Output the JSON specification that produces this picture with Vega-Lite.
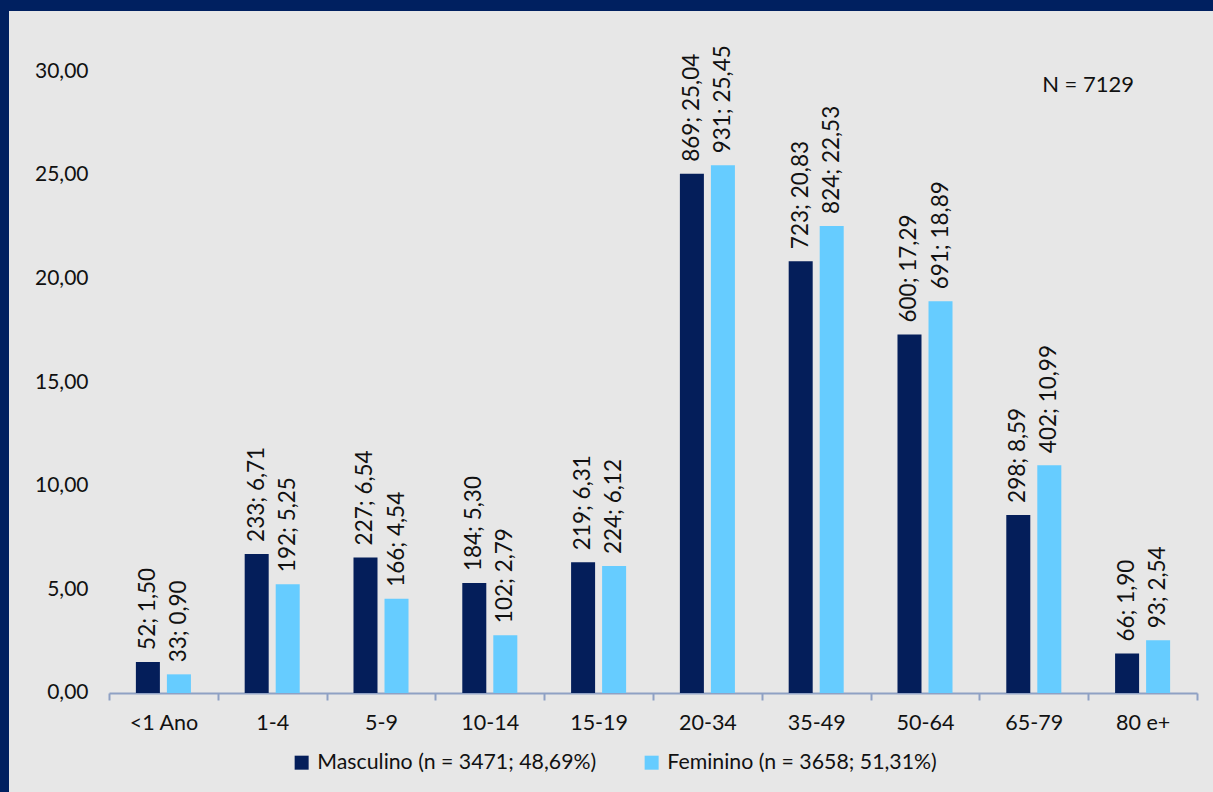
{
  "$schema": "https://vega.github.io/schema/vega-lite/v6.json",
  "width": 1204,
  "height": 781,
  "autosize": {"type": "none"},
  "padding": {"left": 9, "top": 11, "right": 0, "bottom": 0},
  "background": "#002060",
  "config": {
    "locale": {"number": {"decimal": ",", "thousands": ".", "grouping": [3], "currency": ["R$ ", ""]}},
    "view": {"fill": "#E7E7E7", "stroke": null},
    "font": "Lato",
    "text": {"color": "#111111"}
  },
  "title": {
    "text": "N = 7129",
    "anchor": "end",
    "frame": "group",
    "orient": "top",
    "offset": -86,
    "dx": -79,
    "fontSize": 22,
    "fontWeight": "normal",
    "color": "#111111",
    "font": "Lato"
  },
  "data": {
    "values": [
      {"faixa": "<1 Ano", "sexo": "Masculino (n = 3471; 48,69%)", "n": 52, "pct": 1.50, "label": "52; 1,50"},
      {"faixa": "<1 Ano", "sexo": "Feminino (n = 3658; 51,31%)", "n": 33, "pct": 0.90, "label": "33; 0,90"},
      {"faixa": "1-4", "sexo": "Masculino (n = 3471; 48,69%)", "n": 233, "pct": 6.71, "label": "233; 6,71"},
      {"faixa": "1-4", "sexo": "Feminino (n = 3658; 51,31%)", "n": 192, "pct": 5.25, "label": "192; 5,25"},
      {"faixa": "5-9", "sexo": "Masculino (n = 3471; 48,69%)", "n": 227, "pct": 6.54, "label": "227; 6,54"},
      {"faixa": "5-9", "sexo": "Feminino (n = 3658; 51,31%)", "n": 166, "pct": 4.54, "label": "166; 4,54"},
      {"faixa": "10-14", "sexo": "Masculino (n = 3471; 48,69%)", "n": 184, "pct": 5.30, "label": "184; 5,30"},
      {"faixa": "10-14", "sexo": "Feminino (n = 3658; 51,31%)", "n": 102, "pct": 2.79, "label": "102; 2,79"},
      {"faixa": "15-19", "sexo": "Masculino (n = 3471; 48,69%)", "n": 219, "pct": 6.31, "label": "219; 6,31"},
      {"faixa": "15-19", "sexo": "Feminino (n = 3658; 51,31%)", "n": 224, "pct": 6.12, "label": "224; 6,12"},
      {"faixa": "20-34", "sexo": "Masculino (n = 3471; 48,69%)", "n": 869, "pct": 25.04, "label": "869; 25,04"},
      {"faixa": "20-34", "sexo": "Feminino (n = 3658; 51,31%)", "n": 931, "pct": 25.45, "label": "931; 25,45"},
      {"faixa": "35-49", "sexo": "Masculino (n = 3471; 48,69%)", "n": 723, "pct": 20.83, "label": "723; 20,83"},
      {"faixa": "35-49", "sexo": "Feminino (n = 3658; 51,31%)", "n": 824, "pct": 22.53, "label": "824; 22,53"},
      {"faixa": "50-64", "sexo": "Masculino (n = 3471; 48,69%)", "n": 600, "pct": 17.29, "label": "600; 17,29"},
      {"faixa": "50-64", "sexo": "Feminino (n = 3658; 51,31%)", "n": 691, "pct": 18.89, "label": "691; 18,89"},
      {"faixa": "65-79", "sexo": "Masculino (n = 3471; 48,69%)", "n": 298, "pct": 8.59, "label": "298; 8,59"},
      {"faixa": "65-79", "sexo": "Feminino (n = 3658; 51,31%)", "n": 402, "pct": 10.99, "label": "402; 10,99"},
      {"faixa": "80 e+", "sexo": "Masculino (n = 3471; 48,69%)", "n": 66, "pct": 1.90, "label": "66; 1,90"},
      {"faixa": "80 e+", "sexo": "Feminino (n = 3658; 51,31%)", "n": 93, "pct": 2.54, "label": "93; 2,54"}
    ]
  },
  "encoding": {
    "x": {
      "field": "faixa",
      "type": "nominal",
      "sort": ["<1 Ano", "1-4", "5-9", "10-14", "15-19", "20-34", "35-49", "50-64", "65-79", "80 e+"],
      "scale": {"range": [100, 1188], "paddingInner": 0, "paddingOuter": 0},
      "axis": {
        "title": null,
        "labelAngle": 0,
        "offset": -99,
        "domainColor": "#8FA1C4",
        "domainWidth": 2,
        "ticks": true,
        "tickColor": "#8FA1C4",
        "tickWidth": 2,
        "tickSize": 7,
        "tickBand": "extent",
        "labelFontSize": 21.5,
        "labelColor": "#111111",
        "labelPadding": 12,
        "labelFont": "Lato",
        "grid": false
      }
    },
    "xOffset": {
      "field": "sexo",
      "type": "nominal",
      "sort": ["Masculino (n = 3471; 48,69%)", "Feminino (n = 3658; 51,31%)"],
      "scale": {"paddingInner": 0.226, "paddingOuter": 0.867}
    },
    "y": {
      "field": "pct",
      "type": "quantitative",
      "scale": {"domain": [-4.775, 32.894], "nice": false, "zero": false},
      "axis": {
        "title": null,
        "values": [0, 5, 10, 15, 20, 25, 30],
        "format": ".2f",
        "domain": false,
        "ticks": false,
        "tickSize": 0,
        "grid": false,
        "offset": -100,
        "labelPadding": 21,
        "labelFontSize": 21,
        "labelColor": "#111111",
        "labelFont": "Lato"
      }
    }
  },
  "layer": [
    {
      "mark": {"type": "bar"},
      "encoding": {
        "y2": {"datum": 0},
        "color": {
          "field": "sexo",
          "type": "nominal",
          "scale": {
            "domain": ["Masculino (n = 3471; 48,69%)", "Feminino (n = 3658; 51,31%)"],
            "range": ["#041E5A", "#66CCFF"]
          },
          "legend": {
            "title": null,
            "orient": "none",
            "direction": "horizontal",
            "legendX": 282,
            "legendY": 741,
            "symbolType": "square",
            "symbolSize": 196,
            "symbolStrokeWidth": 0,
            "symbolOpacity": 1,
            "labelFontSize": 21.3,
            "labelColor": "#111111",
            "labelFont": "Lato",
            "labelOffset": 5,
            "columnPadding": 44,
            "labelLimit": 500
          }
        }
      }
    },
    {
      "mark": {"type": "text", "angle": 270, "align": "left", "baseline": "middle", "dx": 12, "fontSize": 22.5, "font": "Lato", "color": "#111111"},
      "encoding": {"text": {"field": "label"}}
    }
  ]
}
